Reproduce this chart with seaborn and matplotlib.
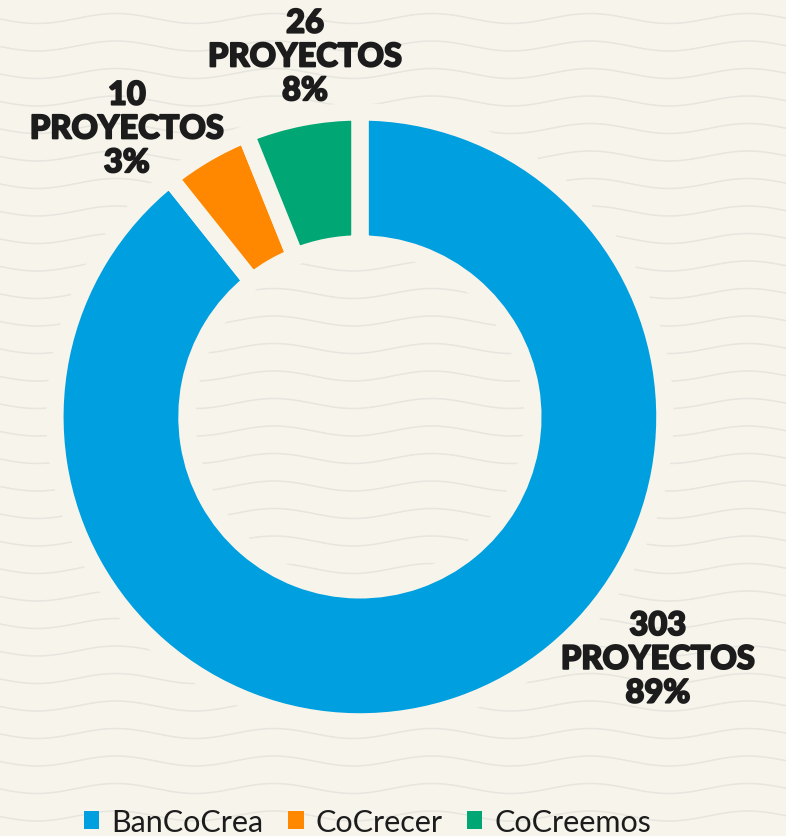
import numpy as np
import seaborn as sns
import matplotlib.pyplot as plt
import matplotlib.patheffects as pe
from matplotlib.patches import Patch

# data
programas = ["BanCoCrea", "CoCrecer", "CoCreemos"]
proyectos = [303, 10, 26]
porcentajes = ["89%", "3%", "8%"]
# slice shares as drawn in the original graphic (percent of the ring)
cuota_dibujada = [89.3, 4.6, 6.1]
colores = ["#009FDF", "#FF8800", "#00A673"]

# label placement (data units, pie radius = 1)
label_pos = [(0.977, -0.795), (-0.764, 0.944), (-0.18, 1.18)]

BG = "#F7F4EC"
TXT = "#1C1C1C"

sns.set_theme(style="white")
plt.rcParams["font.family"] = ["Lato", "DejaVu Sans"]

fig = plt.figure(figsize=(7.86, 8.37), dpi=100, facecolor=BG)

# decorative wavy background
bg = fig.add_axes([0, 0, 1, 1], zorder=0)
bg.set_facecolor(BG)
bg.set_xlim(0, 786)
bg.set_ylim(837, 0)
bg.axis("off")
xs = np.linspace(0, 786, 500)
for y0 in np.arange(-8, 860, 27.5):
    bg.plot(xs, y0 - 5 * np.cos(2 * np.pi * (xs - 590) / 158.0), color="#E6E6DE", lw=1.1)

ax = fig.add_axes([0, 0, 1, 1], zorder=1)
ax.patch.set_alpha(0)
ax.pie(
    cuota_dibujada,
    colors=colores,
    startangle=90,
    counterclock=False,
    radius=1.0,
    wedgeprops=dict(width=0.433, edgecolor=BG, linewidth=12.5),
)
ax.set_xlim(-1.180, 1.397)
ax.set_ylim(-1.374, 1.370)
ax.set_aspect("equal")
ax.axis("off")

for (x, y), n, p in zip(label_pos, proyectos, porcentajes):
    ax.text(x, y, f"{n}\nPROYECTOS\n{p}", ha="center", va="center",
            fontsize=23.5, fontweight="black", color=TXT, linespacing=1.2,
            path_effects=[pe.withStroke(linewidth=1.3, foreground=TXT)])

handles = [Patch(facecolor=c, edgecolor="none") for c in colores]
fig.legend(handles, programas, loc="center", bbox_to_anchor=(0.468, 0.017),
           ncol=3, frameon=False, fontsize=22, handlelength=0.5, handleheight=0.5,
           handletextpad=0.4, columnspacing=0.8, labelcolor=TXT)

fig.savefig("out.png", dpi=100, facecolor=BG)
